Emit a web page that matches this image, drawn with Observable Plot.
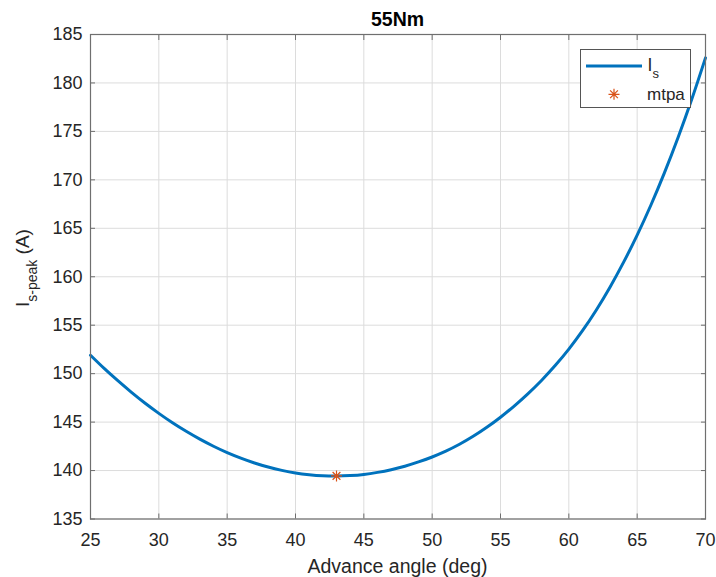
<!DOCTYPE html>
<html>
<head>
<meta charset="utf-8">
<script src="https://cdn.jsdelivr.net/npm/d3@7"></script>
<script src="https://cdn.jsdelivr.net/npm/@observablehq/plot@0.6"></script>
<style>
  body { margin: 0; background: #fff; }
  #chart { width: 716px; height: 577px; }
</style>
</head>
<body>
<div id="chart"></div>
<script>
// Peak stator current required for 55 Nm versus current advance angle
const angle = [25, 26, 27, 28, 29, 30, 31, 32, 33, 34, 35, 36, 37, 38, 39, 40, 41, 42, 43, 44, 45, 46, 47,
  48, 49, 50, 51, 52, 53, 54, 55, 56, 57, 58, 59, 60, 61, 62, 63, 64, 65, 66, 67, 68, 69, 70];
const current = [151.90, 150.54, 149.27, 148.07, 146.94, 145.90, 144.93, 144.05, 143.24, 142.51, 141.85,
  141.28, 140.78, 140.36, 140.02, 139.75, 139.57, 139.46, 139.43, 139.48, 139.60, 139.81, 140.09, 140.45,
  140.89, 141.40, 142.00, 142.71, 143.53, 144.46, 145.50, 146.66, 147.92, 149.30, 150.83, 152.53, 154.43,
  156.55, 158.90, 161.48, 164.30, 167.38, 170.74, 174.39, 178.34, 182.59];

// Maximum torque per ampere operating point
const mtpaAngle = [43];
const mtpaCurrent = [139.45];

const xTicks = [25, 30, 35, 40, 45, 50, 55, 60, 65, 70];
const yTicks = [135, 140, 145, 150, 155, 160, 165, 170, 175, 180, 185];

const titleText = "55Nm";
const xLabel = "Advance angle (deg)";
const yLabelMain = "I", yLabelSub = "s-peak", yLabelUnit = " (A)";
const legendLine = ["I", "s"];
const legendMarker = "mtpa";

const blue = "#0072BD";
const orange = "#D95319";
const axisGray = "#6f6f6f";
const textColor = "#262626";
const font = "'Liberation Sans', Arial, Helvetica, sans-serif";

const curveData = angle.map((a, i) => ({angle: a, current: current[i]}));
const mtpaData = mtpaAngle.map((a, i) => ({angle: a, current: mtpaCurrent[i]}));

// MATLAB-style '*' marker: a plus and a cross overlaid
const star8 = {
  draw(context, size) {
    const r = Math.sqrt(size / Math.PI);
    const d = r * Math.SQRT1_2;
    context.moveTo(0, -r); context.lineTo(0, r);
    context.moveTo(-r, 0); context.lineTo(r, 0);
    context.moveTo(-d, -d); context.lineTo(d, d);
    context.moveTo(-d, d); context.lineTo(d, -d);
  }
};

const width = 716, height = 577;
const marginLeft = 90, marginRight = 11, marginTop = 34, marginBottom = 58.5;

const chart = Plot.plot({
  width, height, marginLeft, marginRight, marginTop, marginBottom,
  style: {fontFamily: font, background: "#fff", color: textColor},
  x: {domain: [25, 70]},
  y: {domain: [135, 185]},
  marks: [
    Plot.gridX(xTicks, {stroke: "#dcdcdc", strokeOpacity: 1, strokeWidth: 1}),
    Plot.gridY(yTicks, {stroke: "#dcdcdc", strokeOpacity: 1, strokeWidth: 1}),
    Plot.line(curveData, {x: "angle", y: "current", stroke: blue, strokeWidth: 3, curve: "catmull-rom"}),
    Plot.dot(mtpaData, {x: "angle", y: "current", symbol: star8, r: 5.5, stroke: orange, strokeWidth: 1.2}),
    Plot.frame({stroke: axisGray, strokeWidth: 1.2}),
    // inward ticks on all four sides
    Plot.axisX(xTicks, {anchor: "bottom", tickSize: 5, dy: -5, fill: "none", stroke: axisGray, label: null}),
    Plot.axisX(xTicks, {anchor: "top", tickSize: 5, dy: 5, fill: "none", stroke: axisGray, label: null}),
    Plot.axisY(yTicks, {anchor: "left", tickSize: 5, dx: 5, fill: "none", stroke: axisGray, label: null}),
    Plot.axisY(yTicks, {anchor: "right", tickSize: 5, dx: -5, fill: "none", stroke: axisGray, label: null}),
    // tick labels
    Plot.axisX(xTicks, {anchor: "bottom", tickSize: 0, tickPadding: 14, fontSize: 18, fill: textColor, label: null}),
    Plot.axisY(yTicks, {anchor: "left", tickSize: 0, tickPadding: 8, fontSize: 18, fill: textColor, label: null})
  ]
});

const svg = d3.select(chart);
const cx = marginLeft + (width - marginLeft - marginRight) / 2;

// Title
svg.append("text")
  .attr("x", cx).attr("y", 25.5)
  .attr("text-anchor", "middle")
  .attr("font-size", 19.5).attr("font-weight", "bold")
  .attr("fill", "#000")
  .text(titleText);

// X axis label
svg.append("text")
  .attr("x", cx).attr("y", 573)
  .attr("text-anchor", "middle")
  .attr("font-size", 19.5)
  .attr("fill", textColor)
  .text(xLabel);

// Y axis label with subscript
const yl = svg.append("text")
  .attr("transform", "translate(29,268) rotate(-90)")
  .attr("text-anchor", "middle")
  .attr("font-size", 19)
  .attr("fill", textColor);
yl.append("tspan").text(yLabelMain);
yl.append("tspan").attr("dy", 8).attr("font-size", 14).text(yLabelSub);
yl.append("tspan").attr("dy", -8).text(yLabelUnit);

// Legend
const lg = svg.append("g").attr("text-anchor", "start");
lg.append("rect")
  .attr("x", 580.5).attr("y", 49.5).attr("width", 110).attr("height", 58)
  .attr("fill", "#fff").attr("stroke", "#555").attr("stroke-width", 1);
lg.append("line")
  .attr("x1", 586).attr("x2", 642).attr("y1", 66).attr("y2", 66)
  .attr("stroke", blue).attr("stroke-width", 3);
const l1 = lg.append("text")
  .attr("x", 647.5).attr("y", 70.7)
  .attr("text-anchor", "start")
  .attr("font-size", 17.5).attr("fill", textColor);
l1.append("tspan").text(legendLine[0]);
l1.append("tspan").attr("dy", 7.5).attr("font-size", 13).text(legendLine[1]);
const mk = d3.path();
star8.draw(mk, Math.PI * 5.5 * 5.5);
lg.append("path")
  .attr("transform", "translate(614,94.3)")
  .attr("d", mk.toString())
  .attr("fill", "none").attr("stroke", orange).attr("stroke-width", 1.2);
lg.append("text")
  .attr("x", 647).attr("y", 99.5)
  .attr("text-anchor", "start")
  .attr("font-size", 17).attr("fill", textColor)
  .text(legendMarker);

document.getElementById("chart").appendChild(chart);
</script>
</body>
</html>
